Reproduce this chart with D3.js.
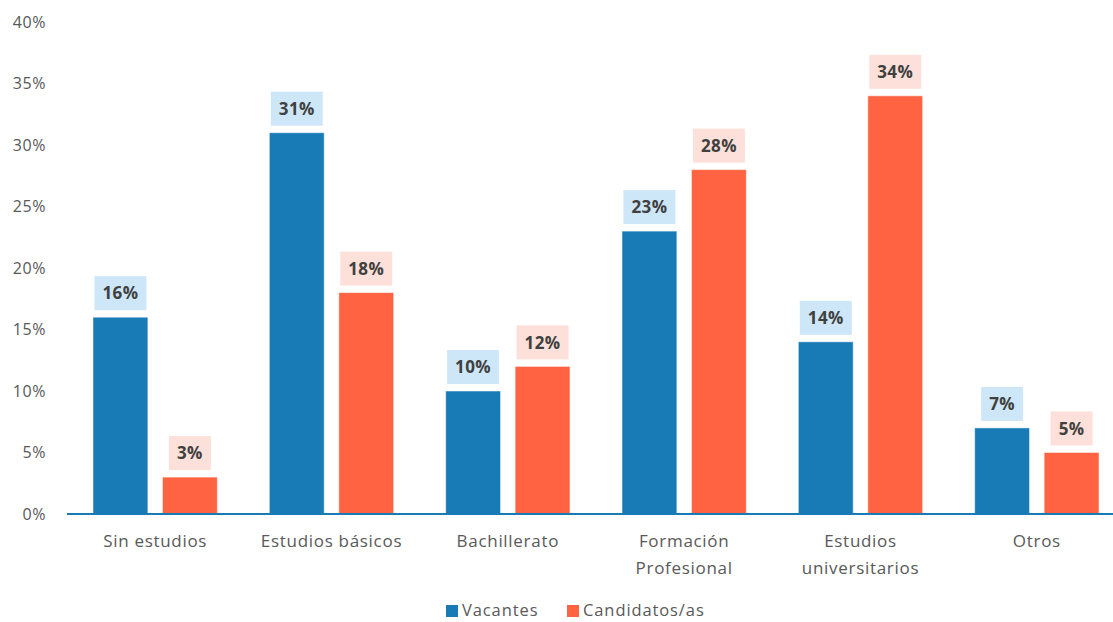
<!DOCTYPE html>
<html>
<head>
<meta charset="utf-8">
<script src="https://cdn.jsdelivr.net/npm/d3@7"></script>
<style>
  body { margin: 0; background: #fff; }
  svg text { font-family: "Open Sans", "Noto Sans", sans-serif; }
</style>
</head>
<body>
<div id="chart"></div>
<script>
const CATEGORIES = [["Sin estudios"], ["Estudios básicos"], ["Bachillerato"],
                    ["Formación", "Profesional"], ["Estudios", "universitarios"], ["Otros"]];
const SERIES = ["Vacantes", "Candidatos/as"];
const VACANTES = [16, 31, 10, 23, 14, 7];
const CANDIDATOS = [3, 18, 12, 28, 34, 5];
const Y_TICKS = [0, 5, 10, 15, 20, 25, 30, 35, 40];

const COLORS = ["#187bb6", "#ff6342"];
const LABEL_BG = ["#cde7f8", "#fde0d9"];

const SVG_WIDTH = 1113;
const SVG_HEIGHT = 622;
const X_LEFT = 67;
const X_RIGHT = 1125;
const Y_ZERO = 514;
const Y_TOP = 22;

const svg = d3.select("#chart")
  .append("svg")
  .attr("width", SVG_WIDTH)
  .attr("height", SVG_HEIGHT);

const xScale = d3.scaleBand()
  .domain(d3.range(CATEGORIES.length))
  .range([X_LEFT, X_RIGHT]);
const xInner = d3.scaleBand()
  .domain([0, 1])
  .range([26, xScale.bandwidth() - 26])
  .paddingInner(0.21);
const yScale = d3.scaleLinear().domain([0, 40]).range([Y_ZERO, Y_TOP]);

// y tick labels
svg.append("g")
  .selectAll("text")
  .data(Y_TICKS)
  .join("text")
  .attr("x", 46)
  .attr("y", d => yScale(d))
  .attr("dy", "0.35em")
  .attr("text-anchor", "end")
  .attr("font-size", 16)
  .attr("letter-spacing", 0.6)
  .attr("fill", "#595959")
  .text(d => d + "%");

const data = [];
for (let i = 0; i < CATEGORIES.length; i++) {
  data.push({cat: i, s: 0, value: VACANTES[i]});
  data.push({cat: i, s: 1, value: CANDIDATOS[i]});
}

// bars
svg.append("g")
  .selectAll("rect")
  .data(data)
  .join("rect")
  .attr("x", d => xScale(d.cat) + xInner(d.s))
  .attr("y", d => yScale(d.value))
  .attr("width", xInner.bandwidth())
  .attr("height", d => Y_ZERO - yScale(d.value))
  .attr("fill", d => COLORS[d.s])
  .attr("stroke", "#ffffff")
  .attr("stroke-opacity", 0.5)
  .attr("stroke-width", 1);

// axis line
svg.append("line")
  .attr("x1", X_LEFT)
  .attr("x2", X_RIGHT)
  .attr("y1", Y_ZERO)
  .attr("y2", Y_ZERO)
  .attr("stroke", "#187bb6")
  .attr("stroke-width", 2);

// value labels with background boxes
const labels = svg.append("g")
  .selectAll("g")
  .data(data)
  .join("g")
  .attr("transform", d => `translate(${xScale(d.cat) + xInner(d.s) + xInner.bandwidth() / 2}, ${yScale(d.value) - 24})`);

labels.append("rect")
  .attr("x", d => String(d.value).length > 1 ? -26 : -21)
  .attr("y", -17)
  .attr("width", d => String(d.value).length > 1 ? 52 : 42)
  .attr("height", 34)
  .attr("fill", d => LABEL_BG[d.s]);

labels.append("text")
  .attr("text-anchor", "middle")
  .attr("dy", "0.36em")
  .attr("font-size", 17)
  .attr("font-weight", "bold")
  .attr("letter-spacing", 0.4)
  .attr("fill", "#404040")
  .text(d => d.value + "%");

// category labels
svg.append("g")
  .selectAll("text")
  .data(CATEGORIES)
  .join("text")
  .attr("x", (d, i) => xScale(i) + xScale.bandwidth() / 2)
  .attr("y", 547)
  .attr("text-anchor", "middle")
  .attr("font-size", 17)
  .attr("letter-spacing", 0.7)
  .attr("fill", "#595959")
  .selectAll("tspan")
  .data(d => d)
  .join("tspan")
  .attr("x", function() { return this.parentNode.getAttribute("x"); })
  .attr("dy", (d, i) => i === 0 ? 0 : 27)
  .text(d => d);

// legend
const legendX = [446, 567];
const legend = svg.append("g")
  .selectAll("g")
  .data(SERIES)
  .join("g")
  .attr("transform", (d, i) => `translate(${legendX[i]}, 610)`);
legend.append("rect")
  .attr("x", 0)
  .attr("y", -5)
  .attr("width", 12)
  .attr("height", 12)
  .attr("fill", (d, i) => COLORS[i]);
legend.append("text")
  .attr("x", 16)
  .attr("dy", "0.35em")
  .attr("font-size", 16.5)
  .attr("letter-spacing", 0.9)
  .attr("fill", "#595959")
  .text(d => d);
</script>
</body>
</html>
